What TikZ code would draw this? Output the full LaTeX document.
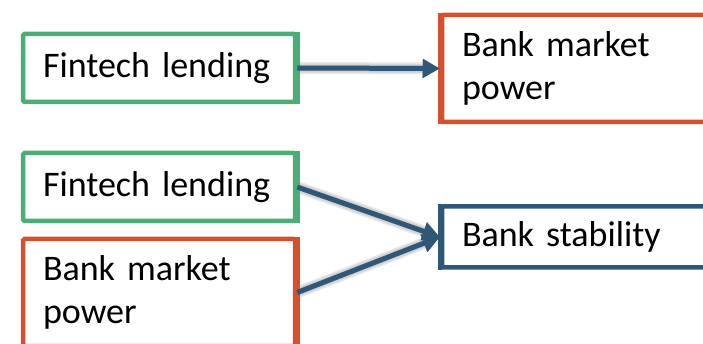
\documentclass[tikz,border=0pt]{standalone}
\usepackage{fontspec}
\setmainfont{Carlito}
\usetikzlibrary{arrows.meta}

\definecolor{boxgreen}{HTML}{4CAE77}
\definecolor{boxred}{HTML}{D5502D}
\definecolor{boxblue}{HTML}{2F5878}

\tikzset{
  box/.style={draw=#1, line width=4.5pt, rounded corners=1.5pt, fill=white,
    inner xsep=20pt, inner ysep=0pt, align=left, text width=232pt,
    minimum width=272pt, font=\fontsize{36}{43}\selectfont},
  link/.style={draw=boxblue, line width=5pt,
    -{Triangle[length=17pt,width=18pt]}},
  linkshade/.style={line width=#1, xshift=2pt, yshift=-5pt,
    -{Triangle[length=17pt,width=18pt]}},
}

\begin{document}
\begin{tikzpicture}[x=1pt,y=-1pt]
  \useasboundingbox (0,0) rectangle (703,344);
  \clip (0,0) rectangle (703,344);

  % boxes
  \node[box=boxgreen, minimum height=68pt] (fl1) at (159,68) {Fintech lending};
  \node[box=boxred, minimum height=107pt] (bmp1) at (578,68.5) {Bank market\\power};
  \node[box=boxgreen, minimum height=68pt] (fl2) at (159,187) {Fintech lending};
  \node[box=boxred, minimum height=107pt] (bmp2) at (159,292.5) {Bank market\\power};
  \node[box=boxblue, minimum height=61pt] (bs) at (578,237) {Bank stability};

  % soft drop shadows under the connectors
  \foreach \w/\c in {12pt/black!9, 9pt/black!16, 6pt/black!24, 3pt/black!30} {
    \draw[linkshade=\w, draw=\c, fill=\c] (fl1.east) -- (bmp1.west);
    \draw[linkshade=\w, draw=\c, fill=\c] (fl2.east) -- (bs.west);
    \draw[linkshade=\w, draw=\c, fill=\c] (bmp2.east) -- (bs.west);
  }

  % box edges drawn again over the start of the shadows
  \draw[boxgreen, line width=4.5pt] (fl1.north east) -- (fl1.south east);
  \draw[boxgreen, line width=4.5pt] (fl2.north east) -- (fl2.south east);
  \draw[boxred, line width=4.5pt] (bmp2.north east) -- (bmp2.south east);
  \draw[boxred, line width=4.5pt] (bmp1.north west) -- (bmp1.south west);
  \draw[boxblue, line width=4.5pt] (bs.north west) -- (bs.south west);

  % connectors
  \draw[link] (fl1.east) -- (bmp1.west);
  \draw[link] (fl2.east) -- (bs.west);
  \draw[link] (bmp2.east) -- (bs.west);
\end{tikzpicture}
\end{document}
